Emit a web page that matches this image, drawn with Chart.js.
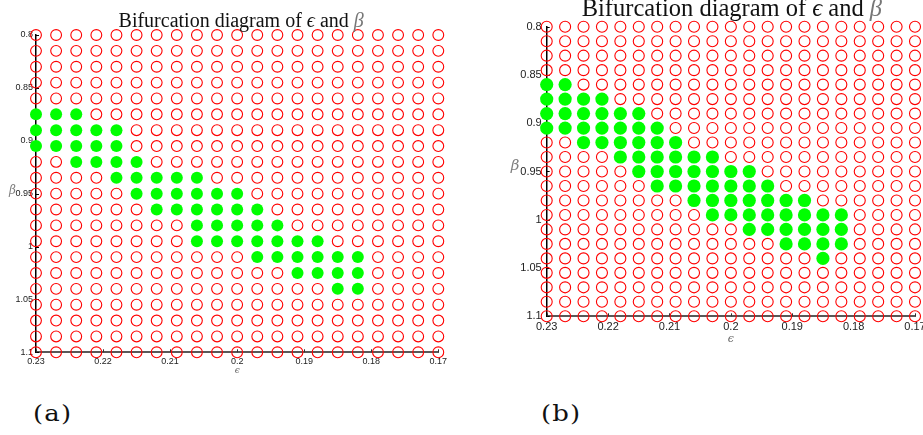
<!DOCTYPE html>
<html>
<head>
<meta charset="utf-8">
<script src="https://cdn.jsdelivr.net/npm/chart.js@4.4.1/dist/chart.umd.min.js"></script>
<style>
  html, body { margin: 0; padding: 0; background: #fff; }
  body { width: 923px; height: 435px; overflow: hidden; position: relative; }
  .panel { position: absolute; top: 0; }
  .tag { position: absolute; font-family: "DejaVu Serif", serif; font-size: 22px; line-height: 1; letter-spacing: 1px; color: #111; transform: scaleX(1.18); transform-origin: left top; }
</style>
</head>
<body>
<div class="panel" style="left:0px"><canvas id="chartA" width="460" height="380"></canvas></div>
<div class="panel" style="left:460px"><canvas id="chartB" width="480" height="350"></canvas></div>
<div class="tag" style="left:33px; top:403px">(a)</div>
<div class="tag" style="left:541px; top:403px">(b)</div>
<script>
// Parameter grid: ε along the columns, β along the rows
const epsilonGrid = [0.230, 0.227, 0.224, 0.221, 0.218, 0.215, 0.212, 0.209, 0.206, 0.203, 0.200,
                     0.197, 0.194, 0.191, 0.188, 0.185, 0.182, 0.179, 0.176, 0.173, 0.170];
const betaGrid = [0.800, 0.815, 0.830, 0.845, 0.860, 0.875, 0.890, 0.905, 0.920, 0.935, 0.950,
                  0.965, 0.980, 0.995, 1.010, 1.025, 1.040, 1.055, 1.070, 1.085, 1.100];

const epsilonTicks = [0.23, 0.22, 0.21, 0.2, 0.19, 0.18, 0.17];
const epsilonTickLabels = ['0.23', '0.22', '0.21', '0.2', '0.19', '0.18', '0.17'];
const betaTicks = [0.8, 0.85, 0.9, 0.95, 1, 1.05, 1.1];
const betaTickLabels = ['0.8', '0.85', '0.9', '0.95', '1', '1.05', '1.1'];

// One string per β row (top to bottom), one character per ε column (left to right):
// '#' = filled green marker, 'o' = open red marker
const statesA = [
  'ooooooooooooooooooooo', // 0.800
  'ooooooooooooooooooooo', // 0.815
  'ooooooooooooooooooooo', // 0.830
  'ooooooooooooooooooooo', // 0.845
  'ooooooooooooooooooooo', // 0.860
  '###oooooooooooooooooo', // 0.875
  '#####oooooooooooooooo', // 0.890
  '#####oooooooooooooooo', // 0.905
  'oo####ooooooooooooooo', // 0.920
  'oooo#####oooooooooooo', // 0.935
  'ooooo######oooooooooo', // 0.950
  'oooooo######ooooooooo', // 0.965
  'oooooooo#####oooooooo', // 0.980
  'oooooooo#######oooooo', // 0.995
  'ooooooooooo######oooo', // 1.010
  'ooooooooooooo####oooo', // 1.025
  'ooooooooooooooo##oooo', // 1.040
  'ooooooooooooooooooooo', // 1.055
  'ooooooooooooooooooooo', // 1.070
  'ooooooooooooooooooooo', // 1.085
  'ooooooooooooooooooooo'  // 1.100
];
const statesB = [
  'ooooooooooooooooooooo', // 0.800
  'ooooooooooooooooooooo', // 0.815
  'ooooooooooooooooooooo', // 0.830
  'ooooooooooooooooooooo', // 0.845
  '##ooooooooooooooooooo', // 0.860
  '####ooooooooooooooooo', // 0.875
  '######ooooooooooooooo', // 0.890
  '#######oooooooooooooo', // 0.905
  'oo######ooooooooooooo', // 0.920
  'oooo######ooooooooooo', // 0.935
  'ooooo#######ooooooooo', // 0.950
  'oooooo#######oooooooo', // 0.965
  'oooooooo#######oooooo', // 0.980
  'ooooooooo########oooo', // 0.995
  'ooooooooooo######oooo', // 1.010
  'ooooooooooooo####oooo', // 1.025
  'ooooooooooooooo#ooooo', // 1.040
  'ooooooooooooooooooooo', // 1.055
  'ooooooooooooooooooooo', // 1.070
  'ooooooooooooooooooooo', // 1.085
  'ooooooooooooooooooooo'  // 1.100
];

function splitPoints(states) {
  const filled = [], open = [];
  states.forEach((row, i) => {
    Array.from(row).forEach((ch, j) => {
      const p = { x: epsilonGrid[j], y: betaGrid[i] };
      (ch === '#' ? filled : open).push(p);
    });
  });
  return { filled, open };
}

// Inward tick marks, the upright β label and the mixed-font title
const panelDecor = {
  id: 'panelDecor',
  beforeDatasetsDraw(chart, args, o) {
    const { ctx, chartArea: a, scales: { x, y } } = chart;
    ctx.save();
    ctx.lineWidth = 1;
    ctx.strokeStyle = '#000';
    betaTicks.forEach(v => {
      const py = Math.round(y.getPixelForValue(v)) + 0.5;
      ctx.beginPath(); ctx.moveTo(a.left, py); ctx.lineTo(a.left + o.tickLen, py); ctx.stroke();
    });
    ctx.strokeStyle = '#333';
    epsilonTicks.forEach(v => {
      const px = Math.round(x.getPixelForValue(v)) + 0.5;
      ctx.beginPath(); ctx.moveTo(px, a.bottom); ctx.lineTo(px, a.bottom - o.tickLen); ctx.stroke();
    });
    ctx.restore();
  },
  afterDraw(chart, args, o) {
    const { ctx, chartArea: a } = chart;
    ctx.save();
    ctx.textBaseline = 'alphabetic';
    ctx.textAlign = 'center';
    ctx.font = `italic ${o.betaSize}px "DejaVu Serif", serif`;
    ctx.fillStyle = '#808080';
    ctx.fillText('β', a.left + o.betaDX, (a.top + a.bottom) / 2 + o.betaDY);

    const fam = '"Liberation Serif", "DejaVu Serif", serif';
    const segs = [
      ['Bifurcation diagram of ', '', '#111'],
      ['ϵ', 'italic ', '#111'],
      [' and ', '', '#111'],
      ['β', 'italic ', '#777']
    ];
    ctx.textAlign = 'left';
    let total = 0;
    segs.forEach(s => { ctx.font = `${s[1]}${o.titleSize}px ${fam}`; s.push(ctx.measureText(s[0]).width); total += s[3]; });
    let tx = (a.left + a.right) / 2 + o.titleDX - total / 2;
    segs.forEach(s => {
      ctx.font = `${s[1]}${o.titleSize}px ${fam}`;
      ctx.fillStyle = s[2];
      ctx.fillText(s[0], tx, o.titleY);
      tx += s[3];
    });
    ctx.restore();
  }
};

function makeChart(id, states, st) {
  const pts = splitPoints(states);
  return new Chart(document.getElementById(id), {
    type: 'scatter',
    data: {
      datasets: [
        { label: 'open', data: pts.open, pointStyle: 'circle', pointRadius: st.openR,
          borderWidth: st.openW, borderColor: '#ff0000', backgroundColor: 'rgba(0,0,0,0)', clip: false },
        { label: 'filled', data: pts.filled, pointStyle: 'circle', pointRadius: st.fillR,
          borderWidth: 0, borderColor: '#00ff00', backgroundColor: '#00ff00', clip: false }
      ]
    },
    options: {
      responsive: false,
      animation: false,
      events: [],
      layout: { padding: st.pad },
      plugins: {
        legend: { display: false },
        tooltip: { enabled: false },
        title: { display: false },
        panelDecor: st.decor
      },
      scales: {
        x: {
          type: 'linear', min: 0.17, max: 0.23, reverse: true,
          afterBuildTicks: s => { s.ticks = epsilonTicks.map(v => ({ value: v })); },
          afterFit: s => { s.height = st.xH; },
          ticks: {
            autoSkip: false, maxRotation: 0, minRotation: 0, padding: st.tickPadX,
            font: { family: '"Liberation Sans", Arial, sans-serif', size: st.tickSize },
            color: '#222',
            callback: (v, i) => epsilonTickLabels[i]
          },
          grid: { display: false, drawTicks: false },
          border: { display: true, color: '#585858', width: st.xBorderW },
          title: {
            display: true, text: 'ϵ', color: '#666',
            font: { family: '"DejaVu Serif", serif', size: st.epsSize, style: 'italic' },
            padding: { top: 0, bottom: st.epsPad }
          }
        },
        y: {
          type: 'linear', min: 0.8, max: 1.1, reverse: true,
          afterBuildTicks: s => { s.ticks = betaTicks.map(v => ({ value: v })); },
          afterFit: s => { s.width = st.yW; },
          ticks: {
            autoSkip: false, padding: st.tickPadY,
            font: { family: '"Liberation Sans", Arial, sans-serif', size: st.tickSize },
            color: '#222',
            callback: (v, i) => betaTickLabels[i]
          },
          grid: { display: false, drawTicks: false },
          border: { display: true, color: '#000', width: st.yBorderW }
        }
      }
    },
    plugins: [panelDecor]
  });
}

makeChart('chartA', statesA, {
  pad: { left: 0, top: 35, right: 21.7, bottom: 0 },
  yW: 36, xH: 27.7,
  tickSize: 9, tickPadX: 4, tickPadY: 3,
  openR: 5.4, openW: 1.1, fillR: 6,
  xBorderW: 2, yBorderW: 1.5,
  epsSize: 9, epsPad: 4,
  decor: { tickLen: 3, betaSize: 12, betaDX: -23.5, betaDY: 0, titleSize: 20, titleDX: 4, titleY: 26.7 }
});

makeChart('chartB', statesB, {
  pad: { left: 0, top: 26.7, right: 25, bottom: 0 },
  yW: 86.7, xH: 33.7,
  tickSize: 11, tickPadX: 4, tickPadY: 5,
  openR: 5.5, openW: 1.1, fillR: 6.6,
  xBorderW: 2, yBorderW: 1.5,
  epsSize: 11, epsPad: 4.4,
  decor: { tickLen: 3, betaSize: 15, betaDX: -31.7, betaDY: -1.5, titleSize: 24.5, titleDX: 1, titleY: 16 }
});
</script>
</body>
</html>
